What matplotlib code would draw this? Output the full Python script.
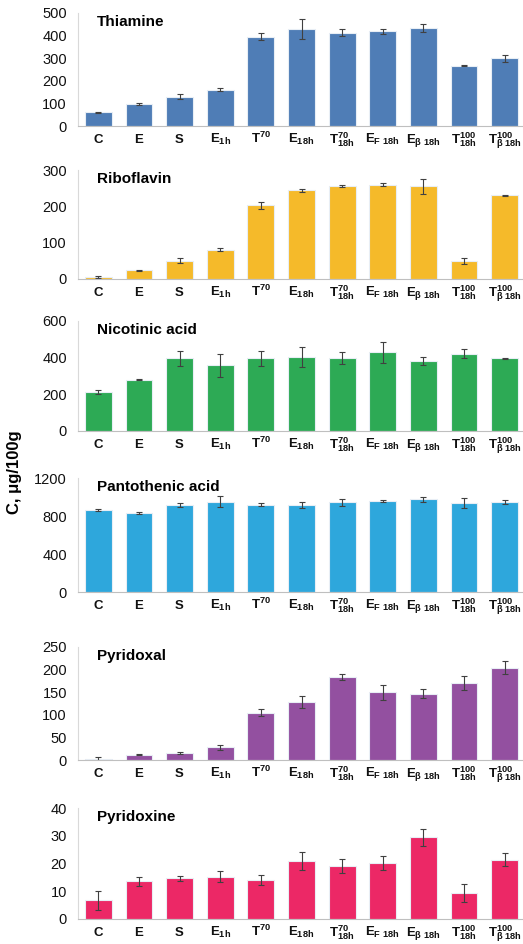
import numpy as np
import matplotlib
matplotlib.use("Agg")
import matplotlib.pyplot as plt

plt.rcParams['font.family'] = ['Liberation Sans', 'DejaVu Sans']
plt.rcParams['mathtext.fontset'] = 'custom'
plt.rcParams['mathtext.rm'] = 'Liberation Sans'
plt.rcParams['mathtext.bf'] = 'Liberation Sans:bold'
plt.rcParams['mathtext.it'] = 'Liberation Sans:italic'

samples = [r'$\mathbf{C}$', r'$\mathbf{E}$', r'$\mathbf{S}$', r'$\mathbf{E_{1h}}$',
           r'$\mathbf{T^{70}}$', r'$\mathbf{E_{18h}}$', r'$\mathbf{T^{70}_{18h}}$',
           r'$\mathbf{E_{F\ 18h}}$', r'$\mathbf{E_{β\ 18h}}$',
           r'$\mathbf{T^{100}_{18h}}$', r'$\mathbf{T^{100}_{β\ 18h}}$']

names = ['Thiamine', 'Riboflavin', 'Nicotinic acid', 'Pantothenic acid', 'Pyridoxal', 'Pyridoxine']

thiamine = [61, 98, 130, 161, 396, 429, 413, 419, 433, 266, 300]
thiamine_err = [3, 3, 10, 8, 15, 45, 15, 10, 19, 2, 16]
riboflavin = [5.5, 24, 50, 80, 203, 244, 255, 259, 255, 49, 231]
riboflavin_err = [2, 1, 7, 4, 9, 4, 3, 4, 20, 8, 1.5]
nicotinic = [212, 279, 396, 358, 396, 403, 396, 429, 383, 422, 396]
nicotinic_err = [9, 3, 40, 64, 40, 54, 33, 56, 23, 24, 2]
pantothenic = [867, 835, 919, 951, 919, 916, 944, 958, 975, 933, 947]
pantothenic_err = [10, 10, 23, 58, 15, 33, 39, 12, 30, 53, 19]
pyridoxal = [2, 12, 15, 28, 105, 129, 183, 150, 147, 170, 204]
pyridoxal_err = [4, 2, 2, 5, 8, 13, 7, 17, 10, 16, 14]
pyridoxine = [6.7, 13.6, 14.7, 15.3, 13.9, 20.8, 19.2, 20.1, 29.4, 9.4, 21.4]
pyridoxine_err = [3.4, 1.7, 0.9, 1.9, 1.8, 3.2, 2.6, 2.6, 3.0, 3.2, 2.3]

values = [thiamine, riboflavin, nicotinic, pantothenic, pyridoxal, pyridoxine]
errors = [thiamine_err, riboflavin_err, nicotinic_err, pantothenic_err, pyridoxal_err, pyridoxine_err]
yticks = [[0, 100, 200, 300, 400, 500], [0, 100, 200, 300], [0, 200, 400, 600],
          [0, 400, 800, 1200], [0, 50, 100, 150, 200, 250], [0, 10, 20, 30, 40]]
colors = ['#4f7db6', '#f5ba2a', '#2daa55', '#2ea7dc', '#9350a0', '#ec2866']

# panel top / bottom in pixels
panel_px = [(13, 126), (170, 279), (321, 431), (478, 592), (647, 760), (808, 919)]

W, H = 523, 944
fig = plt.figure(figsize=(W / 100, H / 100), dpi=100)

x = np.arange(len(samples))
for i in range(6):
    top, bot = panel_px[i]
    ax = fig.add_axes([78 / W, 1 - bot / H, 447 / W, (bot - top) / H])
    ax.bar(x, values[i], width=0.66, color=colors[i], edgecolor='#e8eef5', linewidth=0.8,
           yerr=errors[i], error_kw=dict(ecolor='#404040', elinewidth=0.8, capsize=2, capthick=0.8),
           zorder=2)
    ax.set_xlim(-0.5, 10.5)
    ax.set_ylim(0, yticks[i][-1])
    ax.set_yticks(yticks[i])
    ax.set_xticks(x)
    ax.set_xticklabels(samples, fontsize=9.5)
    for lab in ax.get_xticklabels():
        lab.set_va('baseline')
    ax.tick_params(axis='both', length=0, labelsize=10.5, colors='#111111')
    ax.tick_params(axis='x', labelsize=9.5, pad=12.5)
    ax.tick_params(axis='y', pad=8)
    for s in ['top', 'right']:
        ax.spines[s].set_visible(False)
    ax.spines['left'].set_color('#d9d9d9')
    ax.spines['bottom'].set_color('#bfbfbf')
    ax.text(0.043, 0.98, names[i], transform=ax.transAxes, fontsize=11,
            fontweight='bold', va='top', ha='left')

fig.text(15 / W, 1 - 472 / H, 'C, μg/100g', rotation=90, fontsize=12,
         fontweight='bold', va='center', ha='center')

fig.savefig('out.png', dpi=100)
